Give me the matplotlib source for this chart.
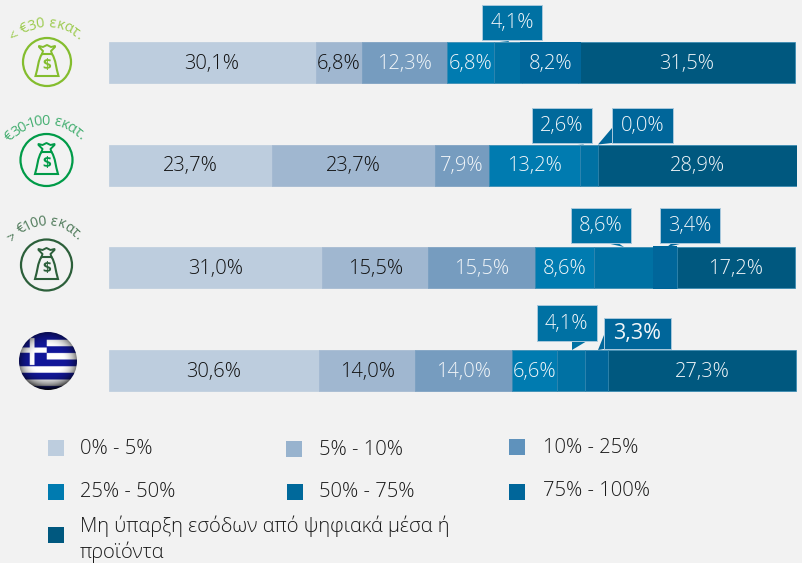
import numpy as np
import matplotlib
matplotlib.use('Agg')
import matplotlib.pyplot as plt
from matplotlib.patches import Circle, Rectangle, Polygon, PathPatch
from matplotlib.path import Path

plt.rcParams['font.family'] = ['Open Sans', 'DejaVu Sans']

# Chart data
groups = ['< €30 εκατ.', '€30-100 εκατ.', '> €100 εκατ.', 'Ελλάδα']
legend_labels = ['0% - 5%', '5% - 10%', '10% - 25%', '25% - 50%', '50% - 75%', '75% - 100%',
                 'Μη ύπαρξη εσόδων από ψηφιακά μέσα ή\nπροϊόντα']
s_0_5 = [30.1, 23.7, 31.0, 30.6]
s_5_10 = [6.8, 23.7, 15.5, 14.0]
s_10_25 = [12.3, 7.9, 15.5, 14.0]
s_25_50 = [6.8, 13.2, 8.6, 6.6]
s_50_75 = [4.1, 2.6, 8.6, 4.1]
s_75_100 = [8.2, 0.0, 3.4, 3.3]
s_none = [31.5, 28.9, 17.2, 27.3]
series = [s_0_5, s_5_10, s_10_25, s_25_50, s_50_75, s_75_100, s_none]

colors = ['#BDCDDE', '#A0B7D0', '#769CBF', '#007BB0', '#0071A3', '#00669A', '#00587F']
legend_colors = ['#BDCDDE', '#98B3CE', '#5F92BC', '#007BB0', '#00699B', '#00669A', '#00587F']
text_colors = ['#111111', '#111111', '#F2F6F9', '#F2F6F9', '#F2F6F9', '#F2F6F9', '#F2F6F9']
bg = '#F2F2F2'
edge = '#A9C8DC'

fig = plt.figure(figsize=(8.02, 5.63), dpi=100, facecolor=bg)
W, H = 802, 563

# Bars, on an axes that holds only the stacked scale
ax = fig.add_axes([108.5 / W, 1 - 421.8 / H, 688 / W, (421.8 - 11.2) / H])
ax.set_facecolor('none')
ax.set_xlim(0, 100)
ax.set_ylim(3.5, -0.5)
ax.axis('off')

# which series sit in a callout instead of inside the bar
in_callout = {(0, 4), (1, 4), (1, 5), (2, 4), (2, 5), (3, 4), (3, 5)}

left = np.zeros(len(groups))
for i, vals in enumerate(series):
    vals = np.array(vals)
    ax.barh(range(len(groups)), vals, left=left, height=0.4, color=colors[i],
            edgecolor=colors[i] if i < 3 else '#2F86B0', linewidth=0.5)
    # the 75-100 box of the first group overlaps its neighbours a little
    if i == 5:
        ax.barh(0, vals[0] + 0.7, left=left[0] - 0.3, height=0.4, color=colors[i], zorder=2.5)
        ax.barh(2, vals[2], left=left[2], height=0.42, color=colors[i], zorder=2.5)
    for r, v in enumerate(vals):
        if (r, i) not in in_callout:
            ax.text(left[r] + v / 2, r + 0.012, f'{v:.1f}%'.replace('.', ','), ha='center',
                    va='center', fontsize=14.5, fontweight='light', color=text_colors[i], zorder=3)
    left = left + vals

# Overlay in pixel units for callouts, icons and the legend
ov = fig.add_axes([0, 0, 1, 1])
ov.set_facecolor('none')
ov.axis('off')

# (row, series, box x0, y0, x1, y1, pointer polygon, colour, font size)
callouts = [
    (0, 4, 482, 4.5, 542, 40, [(490, 40), (509, 42), (508, 40)], '#0071A3', 14.5),
    (1, 4, 532, 107.5, 592, 143, [(565, 143), (584, 144.5), (582, 143)], '#00699B', 14.5),
    (1, 5, 612, 107.5, 673, 143, [(612, 128), (598, 144.5), (612, 143)], '#00669A', 14.5),
    (2, 4, 571, 207.5, 631, 243, [(606, 243), (624, 247), (618, 243)], '#0071A3', 14.5),
    (2, 5, 660, 207.5, 720, 243, [(672, 243), (667, 247), (684, 243)], '#00669A', 14.5),
    (3, 4, 536.5, 305, 597, 341, [(572, 341), (572, 350), (587, 341)], '#0071A3', 14.5),
    (3, 5, 604, 318, 671, 349, [(604, 335), (598, 350), (604, 349)], '#00669A', 15.5),
]
for r, i, x0, y0, x1, y1, tip, col, fs in callouts:
    ov.add_patch(Polygon(tip, closed=True, fc=col, ec='none', zorder=3))
    ov.add_patch(Rectangle((x0, y0), x1 - x0, y1 - y0, fc=col, ec=edge, lw=0.7, zorder=4))
    ov.text((x0 + x1) / 2, (y0 + y1) / 2 + 0.5, f'{series[i][r]:.1f}%'.replace('.', ','), ha='center',
            va='center', fontsize=fs, fontweight='normal' if fs > 15 else 'light',
            color='#F2F6F9', zorder=5)

# Money bag icons
bag_codes = [Path.MOVETO, Path.CURVE4, Path.CURVE4, Path.CURVE4, Path.LINETO, Path.LINETO,
             Path.CURVE4, Path.CURVE4, Path.CURVE4, Path.CLOSEPOLY]
bag_pts = np.array([(-5, -8), (-9, -2), (-9, 6), (-11.5, 14), (11.5, 14), (11.5, 14),
                    (9, 6), (9, -2), (5, -8), (-5, -8)], dtype=float)
knot_pts = np.array([(-5, -8), (-4, -11), (-8, -15), (-8, -16), (-4, -15), (0, -17), (4, -15),
                     (8, -16), (8, -15), (4, -11), (5, -8)], dtype=float)

icons = [
    (47, 62, 24, '#84BD2E', '#9CCB4E', 47, 70, 43, 44, 10.5),
    (46.5, 160, 26, '#009B48', '#45AF72', 46, 171, 46, 46, 10.5),
    (46.5, 265, 25.5, '#2C5F3A', '#4F7A5A', 46, 263, 38, 52, 10),
]
for k, (cx, cy, rad, col, tcol, ax_c, ay_c, arc_r, span, fs) in enumerate(icons):
    ov.add_patch(Circle((cx, cy), rad, fc='none', ec=col, lw=1.6))
    ov.add_patch(PathPatch(Path(bag_pts + (cx, cy), bag_codes), fc='none', ec=col, lw=1.5))
    ov.plot(knot_pts[:, 0] + cx, knot_pts[:, 1] + cy, color=col, lw=1.4)
    ov.text(cx, cy + 3, '$', ha='center', va='center', fontsize=11, fontweight='bold', color=col)
    label = groups[k]
    # narrow characters take less of the arc
    adv = np.array([0.5 if c in ' .,-' else 0.7 if c in 'ι1' else 1.0 for c in label])
    pos = np.cumsum(adv) - adv / 2
    angs = -span + 2 * span * (pos - pos[0]) / (pos[-1] - pos[0])
    for c, ang in zip(label, angs):
        a = np.radians(ang)
        ov.text(ax_c + arc_r * np.sin(a), ay_c - arc_r * np.cos(a), c, rotation=-ang,
                rotation_mode='anchor', ha='center', va='baseline', fontsize=fs,
                fontweight='normal', color=tcol)

# Greek flag ball
n = 232
yy, xx = np.mgrid[-1:1:n * 1j, -1:1:n * 1j]
blue = np.array([0.07, 0.09, 0.6])
white = np.array([1.0, 1.0, 1.0])
stripe = (((yy + 0.97) / 0.23).astype(int) % 2 == 0)
canton = (xx < -0.04) & (yy < 0.14)
cross = canton & (yy > -0.8) & ((np.abs(yy + 0.38) < 0.09) | (np.abs(xx + 0.55) < 0.08))
img = np.where(stripe[..., None], blue, white)
img[canton] = blue
img[cross] = white
rr = np.sqrt(xx ** 2 + yy ** 2)
shade = np.clip(1.05 - 0.55 * rr ** 4 - 0.45 * np.clip(yy, 0, 1) ** 3, 0, 1)
img = img * shade[..., None]
im = ov.imshow(img, extent=(19, 77, 390, 332), aspect='auto', zorder=2)
im.set_clip_path(Circle((48, 361), 29, transform=ov.transData))

# Legend
legend_pos = [(48, 440, 80, 449), (286, 441, 319, 450), (509, 439, 543, 448),
              (48, 484, 80, 492), (287, 484, 319, 492), (509, 484, 543, 491),
              (48, 527, 80, 539)]
for lab, col, (sx, sy, tx, ty) in zip(legend_labels, legend_colors, legend_pos):
    ov.add_patch(Rectangle((sx, sy), 16, 16, fc=col, ec='none'))
    ov.text(tx, ty, lab, ha='left', va='center', fontsize=14.5, fontweight='light',
            color='#1A1A1A', linespacing=1.25)

ov.set_xlim(0, W)
ov.set_ylim(H, 0)

fig.savefig('out.png', dpi=100, facecolor=bg)
